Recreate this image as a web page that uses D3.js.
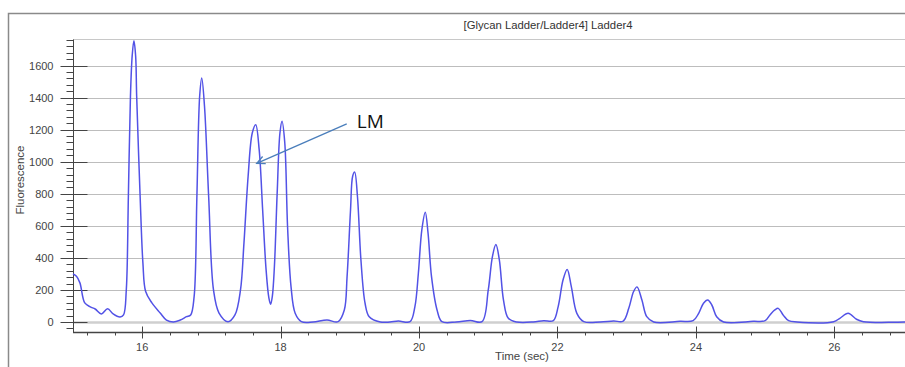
<!DOCTYPE html>
<html>
<head>
<meta charset="utf-8">
<script src="https://cdn.jsdelivr.net/npm/d3@7"></script>
<style>
  html, body { margin: 0; padding: 0; background: #fff; }
  svg { display: block; font-family: "Liberation Sans", Arial, sans-serif; }
</style>
</head>
<body>
<div class="canvas"></div>
<script>
/////////////////////////////////////////////////////
//////////////// data ////////////
/////////////////////////////////////////////////////

// retention time (sec)
const times = [
  15.00, 15.05, 15.10, 15.17, 15.25, 15.32, 15.41, 15.50, 15.58, 15.68,
  15.73, 15.77, 15.80, 15.83, 15.855, 15.88, 15.905, 15.92, 15.97, 16.01,
  16.05, 16.14, 16.26, 16.35, 16.45, 16.55, 16.64, 16.70, 16.75, 16.79,
  16.83, 16.86, 16.90, 16.96, 17.03, 17.11, 17.24, 17.34, 17.42, 17.47,
  17.53, 17.59, 17.64, 17.69, 17.74, 17.79, 17.83, 17.855, 17.88, 17.91, 17.95,
  17.99, 18.02, 18.06, 18.10, 18.15, 18.21, 18.30, 18.47, 18.67, 18.83,
  18.92, 18.96, 19.01, 19.04, 19.07, 19.11, 19.16, 19.22, 19.28, 19.44,
  19.58, 19.70, 19.87, 19.94, 19.99, 20.04, 20.09, 20.13, 20.18, 20.26,
  20.33, 20.54, 20.74, 20.91, 21.00, 21.06, 21.11, 21.16, 21.22, 21.29,
  21.41, 21.65, 21.80, 21.94, 22.01, 22.08, 22.14, 22.20, 22.28, 22.38,
  22.62, 22.81, 22.95, 23.03, 23.10, 23.15, 23.22, 23.29, 23.39, 23.77,
  23.96, 24.04, 24.11, 24.17, 24.23, 24.30, 24.40, 24.83, 25.00, 25.07,
  25.14, 25.19, 25.26, 25.34, 25.46, 25.99, 26.08, 26.20, 26.32, 26.42,
  27.05
];

// fluorescence signal at each time
const fluorescence = [
  300, 285, 244, 119, 94, 81, 50, 83, 50, 31,
  44, 200, 783, 1408, 1660, 1755, 1660, 1408, 783, 369,
  190, 119, 56, 12, 0, 12, 33, 44, 158, 783,
  1408, 1523, 1346, 783, 200, 56, 2, 44, 200, 492,
  908, 1179, 1231, 1075, 700, 325, 150, 110, 160, 346, 804,
  1179, 1252, 1117, 596, 221, 54, 2, 0, 12, 2,
  75, 283, 700, 908, 935, 783, 388, 117, 33, 0,
  0, 6, 2, 96, 304, 575, 685, 554, 283, 75,
  2, 0, 10, 2, 200, 408, 483, 388, 137, 23,
  0, 0, 8, 8, 96, 262, 328, 221, 54, 2,
  0, 6, 6, 85, 190, 219, 137, 33, 0, 4,
  8, 54, 117, 137, 106, 33, 0, 4, 8, 44,
  75, 85, 44, 8, 0, 2, 23, 54, 17, 2,
  0
];

// axis ticks
const yTicks = [0, 200, 400, 600, 800, 1000, 1200, 1400, 1600];
const xTicks = [16, 18, 20, 22, 24, 26];

const trace = times.map((t, i) => ({ t: t, v: fluorescence[i] }));

/////////////////////////////////////////////////////
////////////////// layout ///////////////////////////
/////////////////////////////////////////////////////
const dims = { width: 905, height: 367 };
const plot = { left: 73, top: 39.5, bottom: 332, right: 907 };

const svg = d3.select('.canvas')
  .append('svg')
  .attr('width', dims.width)
  .attr('height', dims.height);

// scales (axis line sits a little below zero)
const x = d3.scaleLinear()
  .domain([15, 27.05])
  .range([plot.left, plot.right]);

const y = d3.scaleLinear()
  .domain([-62.5, 1762.5])
  .range([plot.bottom, plot.top]);

// outer chart frame (top + left edges)
svg.append('path')
  .attr('d', `M8.5,${dims.height} V13.5 H${dims.width}`)
  .attr('fill', 'none')
  .attr('stroke', '#8a8a8a')
  .attr('stroke-width', 1.5);

// title
svg.append('text')
  .attr('x', 548)
  .attr('y', 29)
  .attr('text-anchor', 'middle')
  .attr('font-size', 11.3)
  .attr('fill', '#333')
  .text('[Glycan Ladder/Ladder4] Ladder4');

// plot top border
svg.append('line')
  .attr('x1', plot.left).attr('x2', dims.width)
  .attr('y1', plot.top).attr('y2', plot.top)
  .attr('stroke', '#c8c8c8');

/////////////////////////////////////////////////////
////////////////// grid + axes //////////////////////
/////////////////////////////////////////////////////
const grid = svg.append('g');
grid.selectAll('line')
  .data(yTicks)
  .enter().append('line')
  .attr('x1', plot.left).attr('x2', dims.width)
  .attr('y1', d => Math.round(y(d)) + 0.5)
  .attr('y2', d => Math.round(y(d)) + 0.5)
  .attr('stroke', d => d === 0 ? '#cfcfcf' : '#bdbdbd')
  .attr('stroke-width', d => d === 0 ? 2.5 : 1);

// y axis: major ticks cross the line, minor ticks on the left
const yMinor = d3.range(-40, 1761, 40).filter(v => v % 200 !== 0);
const yAxis = svg.append('g').attr('transform', `translate(${plot.left + 0.5},0)`);
yAxis.append('line')
  .attr('y1', plot.top).attr('y2', plot.bottom)
  .attr('stroke', '#444');
yAxis.selectAll('.minor')
  .data(yMinor)
  .enter().append('line')
  .attr('x1', -7).attr('x2', 0)
  .attr('y1', d => Math.round(y(d)) + 0.5)
  .attr('y2', d => Math.round(y(d)) + 0.5)
  .attr('stroke', '#444');
yAxis.selectAll('.major')
  .data(yTicks)
  .enter().append('line')
  .attr('x1', -13).attr('x2', 14)
  .attr('y1', d => Math.round(y(d)) + 0.5)
  .attr('y2', d => Math.round(y(d)) + 0.5)
  .attr('stroke', '#444');
yAxis.selectAll('text')
  .data(yTicks)
  .enter().append('text')
  .attr('x', -20)
  .attr('y', d => y(d) + 4)
  .attr('text-anchor', 'end')
  .attr('font-size', 11)
  .attr('fill', '#444')
  .text(d => d);

svg.append('text')
  .attr('transform', `translate(24,180) rotate(-90)`)
  .attr('text-anchor', 'middle')
  .attr('font-size', 11.5)
  .attr('fill', '#444')
  .text('Fluorescence');

// x axis: minor every 0.4 sec
const xMinor = d3.range(15.2, 27.0, 0.4).filter(v => Math.abs(v - Math.round(v / 2) * 2) > 0.05);
const xAxis = svg.append('g').attr('transform', `translate(0,${plot.bottom + 0.5})`);
xAxis.append('line')
  .attr('x1', plot.left).attr('x2', dims.width)
  .attr('stroke', '#444')
  .attr('stroke-width', 1.3);
xAxis.selectAll('.minor')
  .data(xMinor)
  .enter().append('line')
  .attr('x1', d => Math.round(x(d)) + 0.5)
  .attr('x2', d => Math.round(x(d)) + 0.5)
  .attr('y1', 0).attr('y2', 3)
  .attr('stroke', '#444');
xAxis.selectAll('.major')
  .data(xTicks)
  .enter().append('line')
  .attr('x1', d => Math.round(x(d)) + 0.5)
  .attr('x2', d => Math.round(x(d)) + 0.5)
  .attr('y1', -6).attr('y2', 6)
  .attr('stroke', '#444');
xAxis.selectAll('text')
  .data(xTicks)
  .enter().append('text')
  .attr('x', d => x(d))
  .attr('y', 18)
  .attr('text-anchor', 'middle')
  .attr('font-size', 11)
  .attr('fill', '#444')
  .text(d => d);

svg.append('text')
  .attr('x', 522)
  .attr('y', 360)
  .attr('text-anchor', 'middle')
  .attr('font-size', 11.5)
  .attr('fill', '#444')
  .text('Time (sec)');

/////////////////////////////////////////////////////
////////////////// the trace ////////////////////////
/////////////////////////////////////////////////////
const line = d3.line()
  .x(d => x(d.t))
  .y(d => y(d.v))
  .curve(d3.curveCatmullRom.alpha(0.5));

svg.append('path')
  .datum(trace)
  .attr('d', line)
  .attr('fill', 'none')
  .attr('stroke', '#5252e6')
  .attr('stroke-width', 1.5);

/////////////////////////////////////////////////////
////////////////// LM callout ///////////////////////
/////////////////////////////////////////////////////
const lm = { tipT: 17.655, tipV: 990, fromT: 18.955, fromV: 1236 };
const tip = [x(lm.tipT), y(lm.tipV)];
const from = [x(lm.fromT), y(lm.fromV)];
const ang = Math.atan2(from[1] - tip[1], from[0] - tip[0]);
const head = 9, spread = 0.45;

svg.append('line')
  .attr('x1', from[0]).attr('y1', from[1])
  .attr('x2', tip[0]).attr('y2', tip[1])
  .attr('stroke', '#4a7ebb')
  .attr('stroke-width', 1.3);
svg.append('path')
  .attr('d', `M${tip[0] + head * Math.cos(ang - spread)},${tip[1] + head * Math.sin(ang - spread)}
              L${tip[0]},${tip[1]}
              L${tip[0] + head * Math.cos(ang + spread)},${tip[1] + head * Math.sin(ang + spread)}`)
  .attr('fill', 'none')
  .attr('stroke', '#4a7ebb')
  .attr('stroke-width', 1.3);

svg.append('text')
  .attr('x', x(19.1))
  .attr('y', y(1212))
  .attr('font-family', '"Open Sans", "Noto Sans", sans-serif')
  .attr('font-size', 19)
  .attr('fill', '#111')
  .text('LM');
</script>
</body>
</html>
